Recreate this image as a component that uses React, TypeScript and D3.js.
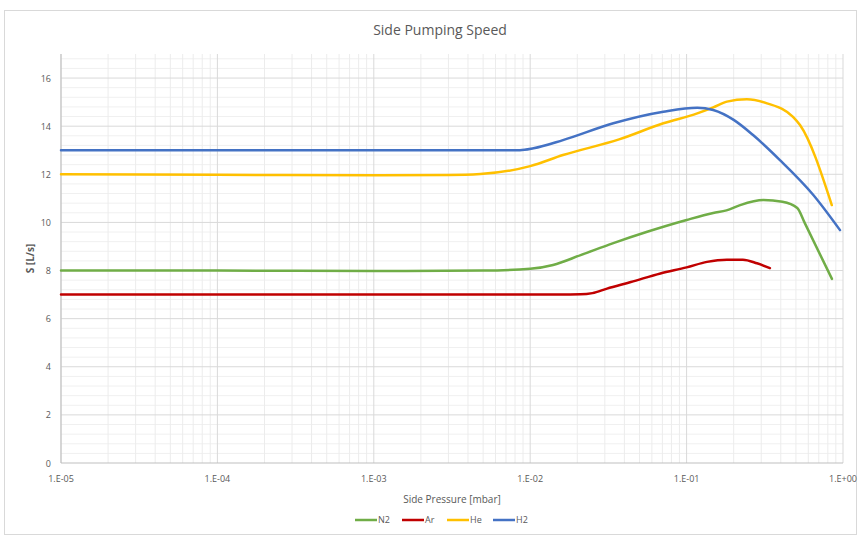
import React from "react";
import * as d3 from "d3";

const W = 859;
const H = 538;

const seriesNames = ["N2", "Ar", "He", "H2"];
const seriesColors = ["#70ad47", "#c00000", "#ffc000", "#4472c4"];

const n2P = [1e-5, 1e-4, 1e-3, 5e-3, 1e-2, 1.4e-2, 2.1e-2, 3.4e-2, 5.6e-2, 0.1, 0.148, 0.18, 0.22, 0.31, 0.41, 0.51, 0.57, 0.85];
const n2S = [8.0, 8.0, 7.98, 8.0, 8.07, 8.23, 8.64, 9.14, 9.61, 10.1, 10.39, 10.5, 10.72, 10.93, 10.86, 10.6, 9.97, 7.65];

const arP = [1e-5, 1e-3, 1e-2, 2.1e-2, 2.5e-2, 3.1e-2, 4.4e-2, 6.8e-2, 0.1, 0.135, 0.181, 0.229, 0.282, 0.341];
const arS = [7.0, 7.0, 7.0, 7.01, 7.06, 7.25, 7.52, 7.88, 8.13, 8.36, 8.45, 8.45, 8.3, 8.1];

const heP = [1e-5, 1e-4, 1e-3, 3e-3, 4.8e-3, 1e-2, 1.62e-2, 3.7e-2, 7.1e-2, 0.117, 0.148, 0.181, 0.243, 0.327, 0.479, 0.531, 0.848];
const heS = [12.0, 11.98, 11.96, 11.97, 12.01, 12.34, 12.8, 13.45, 14.12, 14.53, 14.78, 15.02, 15.12, 14.95, 14.39, 14.05, 10.72];

const h2P = [1e-5, 1e-3, 8.6e-3, 1.05e-2, 1.62e-2, 3.4e-2, 7.1e-2, 0.117, 0.148, 0.2, 0.266, 0.395, 0.646, 0.957];
const h2S = [13.0, 13.0, 13.0, 13.08, 13.42, 14.12, 14.6, 14.77, 14.67, 14.26, 13.63, 12.59, 11.14, 9.68];

const xTicks = [1e-5, 1e-4, 1e-3, 1e-2, 1e-1, 1];
const xTickLabels = ["1.E-05", "1.E-04", "1.E-03", "1.E-02", "1.E-01", "1.E+00"];
const yTicks = [0, 2, 4, 6, 8, 10, 12, 14, 16];

const title = "Side Pumping Speed";
const xTitle = "Side Pressure [mbar]";
const yTitle = "S [L/s]";

const FONT = "'Open Sans', 'Noto Sans', sans-serif";

export default function App() {
  const left = 61, right = 843, top = 54, bottom = 463;
  const x = d3.scaleLog().domain([1e-5, 1]).range([left, right]);
  const y = d3.scaleLinear().domain([0, 17]).range([bottom, top]);

  const series = [
    { p: n2P, s: n2S },
    { p: arP, s: arS },
    { p: heP, s: heS },
    { p: h2P, s: h2S },
  ];

  const line = d3
    .line<[number, number]>()
    .x((d) => x(d[0]))
    .y((d) => y(d[1]))
    .curve(d3.curveMonotoneX);

  const minorX: number[] = [];
  for (let e = -5; e < 0; e++) {
    for (let m = 2; m <= 9; m++) minorX.push(m * Math.pow(10, e));
  }
  const minorY: number[] = [];
  for (let i = 1; i * 0.4 < 17; i++) {
    const v = +(i * 0.4).toFixed(2);
    if (Math.abs(v / 2 - Math.round(v / 2)) > 1e-6) minorY.push(v);
  }

  const legendX = [355, 402, 447, 493];

  return (
    <svg
      width={W}
      height={H}
      style={{ position: "absolute", left: 0, top: 0, background: "#fff" }}
      fontFamily={FONT}
    >
      <rect x={0} y={0} width={W} height={H} fill="#fff" />
      <rect x={4.5} y={10.5} width={852} height={524} fill="#fff" stroke="#d9d9d9" strokeWidth={1} />
      <text x={440} y={35} textAnchor="middle" fontSize={14} fill="#595959">
        {title}
      </text>

      {minorY.map((v) => (
        <line key={"my" + v} x1={left} x2={right} y1={y(v)} y2={y(v)} stroke="#f0f0f0" strokeWidth={1} />
      ))}
      {minorX.map((v) => (
        <line key={"mx" + v} x1={x(v)} x2={x(v)} y1={top} y2={bottom} stroke="#ececec" strokeWidth={1} />
      ))}
      {yTicks.filter((v) => v > 0).map((v) => (
        <line key={"gy" + v} x1={left} x2={right} y1={y(v)} y2={y(v)} stroke="#d9d9d9" strokeWidth={1} />
      ))}
      {xTicks.map((v) => (
        <line key={"gx" + v} x1={x(v)} x2={x(v)} y1={top} y2={bottom} stroke="#d9d9d9" strokeWidth={1} />
      ))}
      <line x1={left} x2={right} y1={bottom} y2={bottom} stroke="#bfbfbf" strokeWidth={1} />
      <line x1={left} x2={left} y1={top} y2={bottom} stroke="#bfbfbf" strokeWidth={1} />

      {yTicks.map((v) => (
        <text key={"yl" + v} x={51} y={y(v) + 3.5} textAnchor="end" fontSize={9} fill="#595959">
          {v}
        </text>
      ))}
      {xTicks.map((v, i) => (
        <text key={"xl" + v} x={x(v)} y={482} textAnchor="middle" fontSize={9} fill="#595959">
          {xTickLabels[i]}
        </text>
      ))}
      <text x={452} y={503} textAnchor="middle" fontSize={10} fill="#595959">
        {xTitle}
      </text>
      <text
        transform={`translate(34, ${y(8.5)}) rotate(-90)`}
        textAnchor="middle"
        fontSize={10}
        fontWeight="bold"
        fill="#595959"
      >
        {yTitle}
      </text>

      {series.map((sr, i) => (
        <path
          key={seriesNames[i]}
          d={line(sr.p.map((p, j) => [p, sr.s[j]] as [number, number])) || ""}
          fill="none"
          stroke={seriesColors[i]}
          strokeWidth={2.5}
          strokeLinejoin="round"
          strokeLinecap="round"
        />
      ))}

      {legendX.map((lx, i) => (
        <g key={"lg" + i}>
          <line x1={lx} x2={lx + 22} y1={520} y2={520} stroke={seriesColors[i]} strokeWidth={2.5} />
          <text x={lx + 23} y={523} fontSize={9} fill="#595959">
            {seriesNames[i]}
          </text>
        </g>
      ))}
    </svg>
  );
}
